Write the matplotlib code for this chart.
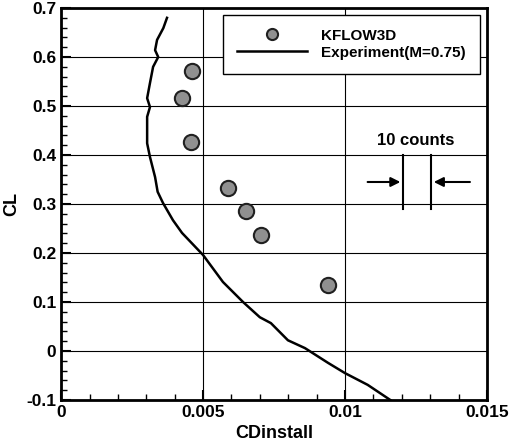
import numpy as np
import matplotlib.pyplot as plt
from matplotlib.ticker import MultipleLocator, FuncFormatter

plt.rcParams['font.family'] = ['Liberation Sans', 'DejaVu Sans']
plt.rcParams['font.weight'] = 'bold'

# KFLOW3D computed points
cd_kflow = [0.00461, 0.00426, 0.00458, 0.00588, 0.00651, 0.00704, 0.00940]
cl_kflow = [0.571, 0.516, 0.427, 0.333, 0.286, 0.237, 0.135]

# Experimental drag polar (M=0.75)
cd_exp = [0.00373, 0.00360, 0.00338, 0.00331, 0.00342, 0.00324, 0.00313, 0.00303,
          0.00313, 0.00303, 0.00303, 0.00313, 0.00331, 0.00340, 0.00359, 0.00394,
          0.00426, 0.00500, 0.00570, 0.00641, 0.00700, 0.00739, 0.00799, 0.00859,
          0.00940, 0.01000, 0.01080, 0.01160]
cl_exp = [0.680, 0.659, 0.635, 0.614, 0.600, 0.580, 0.547, 0.516,
          0.498, 0.478, 0.424, 0.396, 0.355, 0.325, 0.302, 0.267,
          0.241, 0.196, 0.141, 0.100, 0.069, 0.057, 0.022, 0.006,
          -0.024, -0.045, -0.069, -0.100]

fig = plt.figure(figsize=(5.18, 4.46), dpi=100)
ax = fig.add_axes([0.118, 0.103, 0.822, 0.879])

ax.plot(cd_kflow, cl_kflow, 'o', ms=11, mfc='#909090', mec='#202020', mew=1.5,
        label='KFLOW3D', zorder=3)
ax.plot(cd_exp, cl_exp, '-', color='black', lw=1.8, label='Experiment(M=0.75)', zorder=3)

ax.set_xlim(0, 0.015)
ax.set_ylim(-0.1, 0.7)
ax.xaxis.set_major_locator(MultipleLocator(0.005))
ax.xaxis.set_minor_locator(MultipleLocator(0.001))
ax.yaxis.set_major_locator(MultipleLocator(0.1))
ax.yaxis.set_minor_locator(MultipleLocator(0.02))
ax.xaxis.set_major_formatter(FuncFormatter(lambda v, p: '0' if abs(v) < 1e-9 else ('%g' % v)))
ax.yaxis.set_major_formatter(FuncFormatter(lambda v, p: '0' if abs(v) < 1e-9 else ('%.1f' % v)))
ax.tick_params(which='major', direction='in', length=7, width=1.5, labelsize=12.5)
ax.tick_params(which='minor', direction='in', length=4, width=1)
ax.grid(True, which='major', color='black', lw=0.8)
for s in ax.spines.values():
    s.set_linewidth(2)

ax.set_xlabel('CDinstall', fontsize=13, fontweight='bold')
ax.set_ylabel('CL', fontsize=13, fontweight='bold')

leg = ax.legend(loc='upper right', bbox_to_anchor=(0.99, 0.99), fontsize=11,
                frameon=True, fancybox=False, edgecolor='black', framealpha=1,
                handlelength=4.6, borderpad=0.9, labelspacing=0.2, handletextpad=0.9,
                borderaxespad=0.2)
leg.get_frame().set_linewidth(1)
for h in leg.legend_handles:
    if hasattr(h, 'set_markersize'):
        h.set_markersize(8)

# 10 counts annotation
ax.text(0.0125, 0.415, '10 counts', ha='center', va='bottom', fontsize=12, fontweight='bold')
ax.plot([0.01205, 0.01205], [0.29, 0.40], color='black', lw=1.5)
ax.plot([0.01303, 0.01303], [0.29, 0.40], color='black', lw=1.5)
ax.annotate('', xy=(0.01205, 0.345), xytext=(0.0107, 0.345),
            arrowprops=dict(arrowstyle='-|>', color='black', lw=1.5, mutation_scale=14))
ax.annotate('', xy=(0.01303, 0.345), xytext=(0.0145, 0.345),
            arrowprops=dict(arrowstyle='-|>', color='black', lw=1.5, mutation_scale=14))

fig.savefig('out.png', dpi=100)
